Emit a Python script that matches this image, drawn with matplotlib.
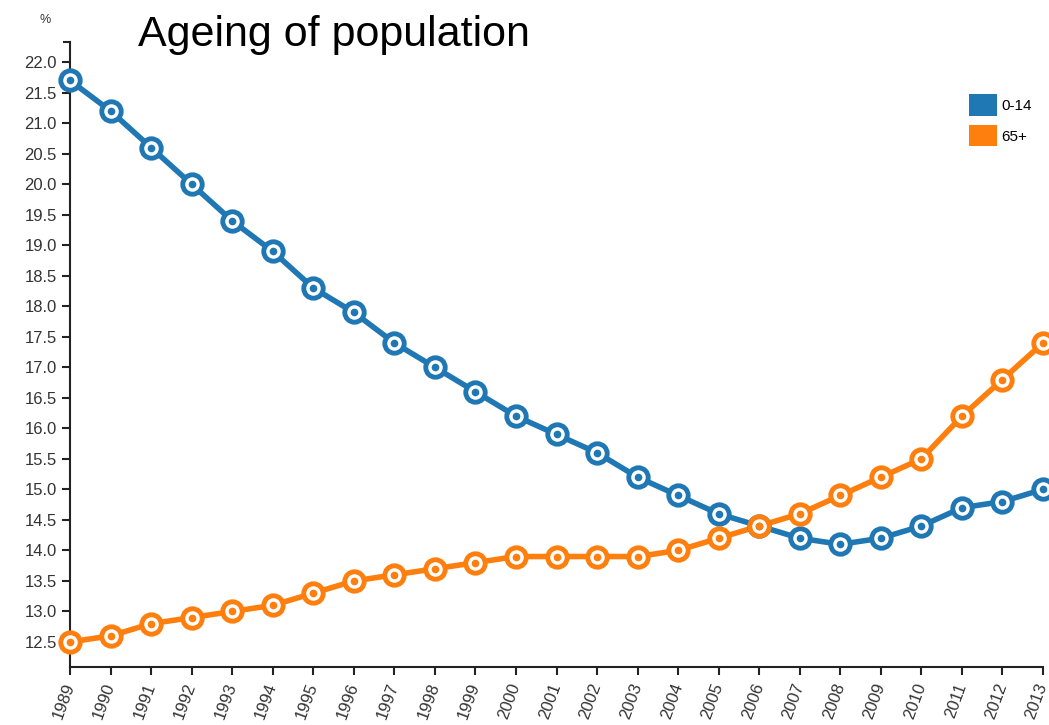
import matplotlib
matplotlib.use("Agg")
import matplotlib.pyplot as plt
from matplotlib.patches import Patch

plt.rcParams["font.family"] = ["Liberation Sans", "DejaVu Sans"]

YEARS = list(range(1989, 2014))
CHILD = [21.7, 21.2, 20.6, 20.0, 19.4, 18.9, 18.3, 17.9, 17.4, 17.0, 16.6, 16.2, 15.9,
         15.6, 15.2, 14.9, 14.6, 14.4, 14.2, 14.1, 14.2, 14.4, 14.7, 14.8, 15.0]
ELDER = [12.5, 12.6, 12.8, 12.9, 13.0, 13.1, 13.3, 13.5, 13.6, 13.7, 13.8, 13.9, 13.9,
         13.9, 13.9, 14.0, 14.2, 14.4, 14.6, 14.9, 15.2, 15.5, 16.2, 16.8, 17.4]
LABELS = ["0-14", "65+"]
COLORS = ["#1f77b4", "#ff7f0e"]
YTICKS = [12.5 + 0.5 * i for i in range(20)]

fig = plt.figure(figsize=(10.49, 7.25), dpi=100)
ax = fig.add_axes([70 / 1049, 58 / 725, 973 / 1049, 625 / 725])

for vals, color in zip([CHILD, ELDER], COLORS):
    ax.plot(YEARS, vals, "-", color=color, linewidth=4, clip_on=False, zorder=2)
    ax.plot(YEARS, vals, "o", markersize=14, markerfacecolor="white",
            markeredgecolor=color, markeredgewidth=3.5, clip_on=False, zorder=3)
    ax.plot(YEARS, vals, "o", markersize=4.5, color=color, clip_on=False, zorder=4)

ax.set_xlim(1989, 2013)
ax.set_ylim(12.09, 22.33)
ax.set_xticks(YEARS)
ax.set_xticklabels([str(y) for y in YEARS], rotation=70, ha="right", va="center",
                   rotation_mode="anchor", fontsize=12, color="#333333")
ax.set_yticks(YTICKS)
ax.set_yticklabels([f"{v:.1f}" for v in YTICKS], fontsize=12, color="#333333")
ax.tick_params(axis="both", length=6, width=1.5, color="#222222")
ax.tick_params(axis="x", pad=6)
ax.spines[["top", "right"]].set_visible(False)
for s in ["left", "bottom"]:
    ax.spines[s].set_linewidth(1.5)
    ax.spines[s].set_color("#222222")
# outer tick at top of y axis
ax.plot([-0.006, 0], [1, 1], transform=ax.transAxes, color="#222222",
        linewidth=1.5, clip_on=False)

fig.text(40 / 1049, 1 - 20 / 725, "%", fontsize=9, color="#333333", va="center")
fig.text(138 / 1049, 1 - 46 / 725, "Ageing of population", fontsize=31, color="black",
         va="baseline")

handles = [Patch(facecolor=c, edgecolor="none") for c in COLORS]
leg = ax.legend(handles, LABELS, loc="upper left", bbox_to_anchor=(969 / 1049, 1 - 94 / 725),
                bbox_transform=fig.transFigure, frameon=False, fontsize=11,
                handlelength=1.8, handleheight=1.8, handletextpad=0.3, labelspacing=0.6,
                borderaxespad=0, borderpad=0)

fig.savefig("out.png", dpi=100, facecolor="white")
